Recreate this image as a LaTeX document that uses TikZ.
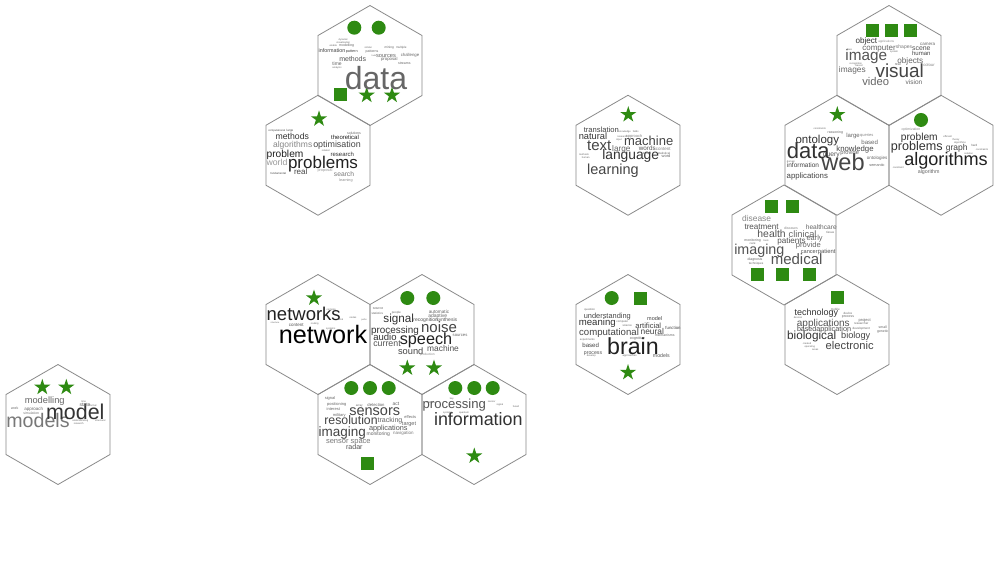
\documentclass[tikz,border=0pt]{standalone}
\usepackage{fontspec}
\setmainfont{Liberation Sans}
\usepackage{xcolor}
\usepackage{tikz}
\usetikzlibrary{shapes.geometric}
\definecolor{markgreen}{HTML}{2E8A12}
\definecolor{hexgray}{HTML}{8A8A8A}

\tikzset{
  hexline/.style={draw=hexgray, line width=0.8pt},
  hexcell/.pic={\draw[hexline] (0,-60) -- (52,-30) -- (52,30) -- (0,60) -- (-52,30) -- (-52,-30) -- cycle;},
  word/.style={anchor=base, inner sep=0pt, outer sep=0pt},
  markdot/.style={circle, fill=markgreen, minimum size=14pt, inner sep=0pt},
  markbox/.style={rectangle, fill=markgreen, minimum size=13pt, inner sep=0pt},
  markstar/.style={star, star points=5, star point ratio=2.618, fill=markgreen, minimum size=17pt, inner sep=0pt}
}
\newcommand\cloud[2]{%
  \foreach \x/\y/\fs/\gr/\lbl [count=\i] in {#2}
    \node[word, text=black!\gr, font=\fontsize{\fs}{\fs}\selectfont] (#1-w\i) at (\x,\y) {\lbl};}

\begin{document}
\begin{tikzpicture}[x=1pt, y=-1pt]
  \fill[white] (0,0) rectangle (1000,582);
  \useasboundingbox (0,0) rectangle (1000,582);

  \begin{scope}[shift={(370,65.5)}]
    \pic at (0,0) {hexcell};
    \node[markdot] (data-m1) at (-15.7,-37.8) {};
    \node[markdot] (data-m2) at (8.7,-37.8) {};
    \node[markbox] (data-m3) at (-30,28.8) {};
    \node[markstar] (data-m4) at (-3.3,29.8) {};
    \node[markstar] (data-m5) at (22,29.8) {};
    \cloud{data}{6/23.8/32/60/data, -17.3/-4.5/7/67/methods, -38/-12.8/5.4/73/information,
      -18.3/-12.8/3.8/73/pattern, 2/-12.8/3.5/60/patterns, -33/-0.2/5/60/time, -33/2.5/2.5/60/analysis,
      19.3/-16.8/3.2/60/mining, 31.3/-16.8/3/60/multiple, -1.7/-16.8/2.5/60/similar,
      16/-7.8/5.7/60/sources, 19.3/-5.2/4.3/60/proposal, 40/-9.5/4.3/60/challenge,
      34.3/-1.2/3.5/60/streams, -23.3/-18.8/3.5/60/modelling, -36.7/-18.8/2.5/60/enable,
      -26.7/-21.8/2.5/60/visualisation, -26.7/-24.8/2.5/60/dynamic, 4/-9.5/2.2/60/tools}
  \end{scope}

  \begin{scope}[shift={(318,155.25)}]
    \pic at (0,0) {hexcell};
    \node[markstar] (prob-m1) at (1,-36.3) {};
    \cloud{prob}{5/12.8/17/87/problems, -33/2/10.2/87/problem, -25.7/-15.5/8.7/80/methods,
      -25.3/-8/8.5/47/algorithms, 19/-7.3/8.9/73/optimisation, -41/9.8/8.7/40/world,
      -17.3/19.5/8/73/real, 24.3/1/6/80/research, 27/-15.3/6/87/theoretical,
      36/-20.6/3.5/60/solutions, 7/16.5/3.9/40/proposal, 26/21/6.7/53/search,
      28/26/3.7/47/learning, -39.7/19.5/2.8/73/fundamental, -41.3/-23.6/2.7/73/computational,
      -28/-23.6/3/73/large, 7.7/-4/2.5/60/related}
  \end{scope}

  \begin{scope}[shift={(628,155.25)}]
    \pic at (0,0) {hexcell};
    \node[markstar] (lang-m1) at (0.3,-40.6) {};
    \cloud{lang}{2.7/4.4/13.8/80/language, 20.7/-9.6/13/73/machine, -28.7/-4.6/15/73/text,
      -15/19.4/14.5/73/learning, -35/-15.6/9.3/80/natural, -26.7/-22.3/7.6/73/translation,
      -6.7/-3.9/8.2/60/large, 19.3/-4.6/6.3/67/words, 35.3/-4.6/4.5/47/content,
      6/-18/4/47/approach, -3.3/-22.6/2.5/60/knowledge, 7.7/-22.6/2.5/60/fields,
      36/-1.2/3/60/statistical, 38/2/4/60/word, 19/-1.2/3/60/based, -44/0.4/2.5/60/methods,
      -42.3/3/2.5/60/human, -9/-14.6/2.5/60/input, -5.7/-18/2.5/60/research}
  \end{scope}

  \begin{scope}[shift={(889,65.5)}]
    \pic at (0,0) {hexcell};
    \node[markbox] (img-m1) at (-16.5,-35.5) {};
    \node[markbox] (img-m2) at (2,-35.5) {};
    \node[markbox] (img-m3) at (21,-35.5) {};
    \cloud{img}{-22.7/-5.5/15.3/67/image, 10.7/11.8/18.9/73/visual, -13.3/19.5/11.2/60/video,
      25/18.5/6.5/60/vision, -22.7/-22.2/8.1/80/object, -10/-15.5/8/60/computer,
      -2.7/-22.8/3/47/applications, 15/-17.5/5/53/shapes, 32.3/-15.5/6.9/67/scene,
      38.7/-20.2/4.5/60/camera, 32.3/-9.8/6/73/human, 21.3/-2.5/8.2/60/objects,
      40/0.8/4.2/47/colour, -36.7/6.8/8.3/60/images, 8.7/0.2/3.5/60/real,
      5/-12.8/2.5/60/system, -39.3/-14.8/2.5/60/face, -33.3/-1.5/2.5/60/recognition,
      -30/1.2/2.5/60/based}
  \end{scope}

  \begin{scope}[shift={(837,155.25)}]
    \pic at (0,0) {hexcell};
    \node[markstar] (web-m1) at (0.3,-40.6) {};
    \cloud{web}{6/14.8/23.6/73/web, -28.7/2.8/22/80/data, -19.7/-11.9/11.5/80/ontology,
      18/-3.9/7.8/73/knowledge, -5.7/1.4/6.7/67/query, 12.7/-0.6/5.7/60/provide,
      32.7/-10.6/6.1/60/based, 16/-17.9/6/60/large, 29.7/-18.6/4/47/queries,
      40/4.1/4.5/60/ontologies, 40/11.4/3.8/60/semantic, -34/12/6.5/73/information,
      -29.7/23.1/7.8/73/applications, -1.7/-21.9/3.5/60/reasoning,
      -17.3/-25.3/2.5/60/constraints, -46/7/2.5/60/domain}
  \end{scope}

  \begin{scope}[shift={(941,155.25)}]
    \pic at (0,0) {hexcell};
    \node[markdot] (algo-m1) at (-20,-35.3) {};
    \cloud{algo}{5/10.4/18.1/87/algorithms, -24.3/-5.2/12.6/80/problems, -21.7/-15.2/10.2/80/problem,
      15.7/-5.2/8.5/73/graph, -30/-24.6/3.5/47/optimization, -12.3/17.8/5.3/60/algorithm,
      6.7/-18/2.5/60/efficient, 15/-15.2/2.5/60/theory, 19/-12/2.5/60/algorithms,
      33.3/-8.6/3/60/hard, 41/-4.6/2.5/60/constraints, 27.7/-1.2/2.5/60/solution,
      -42.7/12.8/2.5/60/constraint}
  \end{scope}

  \begin{scope}[shift={(784,245)}]
    \pic at (0,0) {hexcell};
    \node[markbox] (med-m1) at (-13,-38.3) {};
    \node[markbox] (med-m2) at (8.6,-38.3) {};
    \node[markbox] (med-m3) at (-26.4,29) {};
    \node[markbox] (med-m4) at (-1.4,29) {};
    \node[markbox] (med-m5) at (25.3,29) {};
    \cloud{med}{12.6/19.7/15/67/medical, -24.7/9/14.3/67/imaging, -12.4/-7.7/10.4/67/health,
      18.6/-7.7/9.3/60/clinical, -27.4/-23.7/8.4/47/disease, -22.4/-16/8.1/67/treatment,
      37.3/-16/6.6/60/healthcare, 7.6/-1.7/8.1/67/patients, 30.6/-4.3/7.4/60/early,
      24.3/2.3/7.6/60/provide, 25.3/8/5.6/67/cancer, 42.6/8/5.9/67/patient,
      7/-16/3.5/47/diseases, 46.3/-11.7/3/60/tissue, -31.4/-3.7/3.5/60/monitoring,
      -18/-3.7/2.5/60/tools, -31.4/-0.3/3/60/care, -29/15/3.5/60/diagnosis,
      -28/19/3/60/techniques}
  \end{scope}

  \begin{scope}[shift={(837,334.5)}]
    \pic at (0,0) {hexcell};
    \node[markbox] (elec-m1) at (0.3,-37.2) {};
    \cloud{elec}{12.7/14.5/11.2/73/electronic, -25.3/4.5/11.8/80/biological, 18.7/3.5/9.2/73/biology,
      -13.7/-8.2/10/67/applications, -20.7/-19.5/9/80/technology, -30.3/-2.8/7.1/73/based,
      -3.3/-2.8/7.3/67/application, -1.7/-23.8/3/60/mobile, 11/-20.5/3/60/device,
      11/-17.2/3.5/60/process, 27.7/-12.8/4/60/project, 24.3/-9.8/3/60/researcher,
      24.3/-5.2/3/60/development, 45.7/-6.5/3.5/60/small, 45.7/-2.2/3.5/60/genetic,
      -39/-16.5/2.5/60/devices, -30/9.5/2.5/60/created, -27.3/12.8/2.5/60/operating,
      -21.7/16.2/2.5/60/areas}
  \end{scope}

  \begin{scope}[shift={(58,424.5)}]
    \pic at (0,0) {hexcell};
    \node[markstar] (mod-m1) at (-15.7,-37.2) {};
    \node[markstar] (mod-m2) at (8.3,-37.2) {};
    \cloud{mod}{-20/2.8/19.6/53/models, 17.3/-5.5/21.4/80/model, -13.3/-21.2/9.3/60/modelling,
      27/-17.8/5/60/state, -24.3/-13.8/4.5/60/approach, -26.7/-10.5/3.5/53/simulation,
      -43.3/-15.5/3.5/60/work, 25.7/-22.2/2.5/60/time, 35/-17.8/2.5/60/formal,
      42.3/-3.2/2.5/60/structural, 22.3/-3.2/2.5/60/understanding, 20.7/0.2/2.5/60/research}
  \end{scope}

  \begin{scope}[shift={(318,334.5)}]
    \pic at (0,0) {hexcell};
    \node[markstar] (net-m1) at (-4,-36.5) {};
    \cloud{net}{5/9/25.2/100/network, -14.3/-13.8/18.5/87/networks, -21.7/-7.8/4.5/67/content,
      13.3/-23.8/2.5/60/complex, 22/-13.8/2.5/60/social, 35/-16.5/2.5/60/nodes,
      46/-13.8/2.2/60/paths, 12.7/-5.5/2.5/60/systems, -3.3/-9.8/2.5/60/routing,
      -43/-11/2.2/60/structure}
  \end{scope}

  \begin{scope}[shift={(422,334.5)}]
    \pic at (0,0) {hexcell};
    \node[markdot] (sp-m1) at (-14.7,-36.5) {};
    \node[markdot] (sp-m2) at (11.3,-36.5) {};
    \node[markstar] (sp-m3) at (-14.7,33.5) {};
    \node[markstar] (sp-m4) at (12,33.5) {};
    \cloud{sp}{4/10.2/16.2/87/speech, -27/-1.2/9.9/80/processing, 17/-2.2/15/73/noise,
      -23.3/-12.2/11.7/80/signal, -37/5.5/9.5/80/audio, -35/12.2/8.8/67/current,
      -11.3/19.5/9.3/73/sound, 21/16.8/8.4/67/machine, 3.7/-12.8/5/67/recognition,
      24.7/-12.8/5/67/synthesis, 15.7/-17.2/5/60/adaptive, 17/-21.2/4.7/60/automatic,
      38/1.5/4.2/60/sources, 5.3/21.2/3.2/47/production, -44/-24.8/3.5/60/source,
      -44.7/-20.5/3/60/statistics, -25.7/-21.2/3/60/people}
  \end{scope}

  \begin{scope}[shift={(370,424.5)}]
    \pic at (0,0) {hexcell};
    \node[markdot] (sens-m1) at (-18.7,-36.5) {};
    \node[markdot] (sens-m2) at (0,-36.5) {};
    \node[markdot] (sens-m3) at (18.7,-36.5) {};
    \node[markbox] (sens-m4) at (-2.5,38.5) {};
    \cloud{sens}{4.7/-9.5/14.5/73/sensors, -19/0.2/12.3/73/resolution, -27.7/12.2/13.5/73/imaging,
      18.3/5.5/7.3/67/applications, 20/-2.2/7.1/60/tracking, 39/0.5/5.5/60/target,
      40.3/-6.5/4/60/effects, 8.3/11.2/5/60/monitoring, 33.3/10.2/4.5/53/navigation,
      -21.7/18.8/7.5/53/{sensor space}, -15.7/24.5/7.1/67/radar, -40/-24.8/4/60/signal,
      -33.3/-18.8/4/60/positioning, -10.7/-18.2/3/60/array, 6/-18.2/4.2/60/detection,
      26/-18.8/5/60/act, -36.7/-13.8/4/60/interest, -30.7/-8.2/4/60/military}
  \end{scope}

  \begin{scope}[shift={(474,424.5)}]
    \pic at (0,0) {hexcell};
    \node[markdot] (info-m1) at (-18.7,-36.5) {};
    \node[markdot] (info-m2) at (0.3,-36.5) {};
    \node[markdot] (info-m3) at (18.7,-36.5) {};
    \node[markstar] (info-m4) at (0.3,31.5) {};
    \cloud{info}{4.3/1.2/17.9/80/information, -19.7/-16.2/13.1/67/processing, -22.3/-25.5/2.5/60/key,
      17.7/-22.2/2.5/60/sensor, 26/-18.8/2.5/60/signal, 42/-17.2/2.5/60/fused,
      -43/-21.2/2.5/60/retrieval, -26.3/-11.2/2.5/60/systems, -10/-11.2/2.5/60/quantum}
  \end{scope}

  \begin{scope}[shift={(628,334.5)}]
    \pic at (0,0) {hexcell};
    \node[markdot] (brain-m1) at (-16.3,-36.5) {};
    \node[markbox] (brain-m2) at (12.7,-36.5) {};
    \node[markstar] (brain-m3) at (0,38) {};
    \cloud{brain}{5/19.5/23.2/87/brain, -19/1.2/9.6/73/computational, -30.7/-8.8/9.6/80/meaning,
      -20.7/-16.5/7.4/73/understanding, 24.3/0.2/8.4/73/neural, 20.3/-6.5/7.6/73/artificial,
      26.7/-13.8/5.5/73/model, 45/-5.5/4.3/73/function, 36.7/2.2/3.5/60/mechanisms,
      -37.3/12.8/6.1/73/based, -35/19.5/5.2/67/process, 33.3/22.8/5.2/67/models,
      9.3/5.2/3.8/60/cognitive, -40.7/5.5/2.7/60/experiments, -36.7/22.2/2.5/60/develop,
      1.7/22.2/2.7/60/approaches, -38.3/-23.8/2.8/60/question, -5.7/-12.2/2.8/60/computer,
      -0.7/-8.2/2.8/60/science}
  \end{scope}
\end{tikzpicture}
\end{document}
